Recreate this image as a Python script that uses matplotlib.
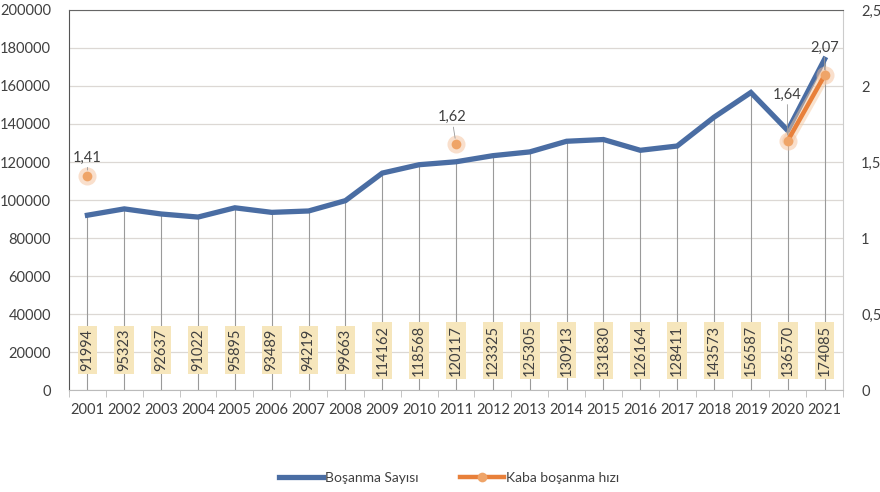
import matplotlib
matplotlib.use("Agg")
import matplotlib.pyplot as plt
import numpy as np

years = ["2001", "2002", "2003", "2004", "2005", "2006", "2007", "2008", "2009", "2010",
         "2011", "2012", "2013", "2014", "2015", "2016", "2017", "2018", "2019", "2020", "2021"]
divorces = [91994, 95323, 92637, 91022, 95895, 93489, 94219, 99663, 114162, 118568,
            120117, 123325, 125305, 130913, 131830, 126164, 128411, 143573, 156587, 136570, 174085]
rate = [1.41, None, None, None, None, None, None, None, None, None,
        1.62, None, None, None, None, None, None, None, None, 1.64, 2.07]
rate_labels = ["1,41", "1,62", "1,64", "2,07"]

plt.rcParams['font.family'] = ['Lato', 'DejaVu Sans']
txt = '#404040'

fig = plt.figure(figsize=(8.8, 4.92), dpi=100)
ax = fig.add_axes([69/880, 1-390/492, (843-69)/880, (390-10)/492])
x = np.arange(len(years))

ax.set_ylim(0, 200000)
ax.set_xlim(-0.5, len(years)-0.5)
ax.set_yticks(np.arange(0, 200001, 20000))
ax.yaxis.grid(True, color='#dcd8d4', lw=0.9)
ax.set_axisbelow(True)

# drop lines
ax.vlines(x, 0, divorces, color='#9a9a9a', lw=0.8, zorder=2)
ax.plot(x, divorces, color='#4a6da3', lw=3.8, solid_joinstyle='miter', zorder=4,
        label='Boşanma Sayısı')

# data labels
for xi, v in zip(x, divorces):
    ax.text(xi, 0.105, str(v), rotation=90, ha='center', va='center', fontsize=10.5,
            color=txt, transform=ax.get_xaxis_transform(), zorder=5,
            bbox=dict(boxstyle='square,pad=0.2', fc='#f6e6bc', ec='none'))

ax.set_xticks(x)
ax.set_xticklabels(years, fontsize=10.5, color=txt)
ax.set_xticks(np.arange(-0.5, len(years), 1), minor=True)
ax.tick_params(axis='x', which='major', length=0, pad=9)
ax.tick_params(axis='x', which='minor', length=5, color='#bbbbbb', direction='out')
ax.tick_params(axis='y', length=0, pad=13, labelsize=10.5, labelcolor=txt)
ax.spines['left'].set_color('#555555')
ax.spines['top'].set_color('#666666')
ax.spines['right'].set_color('#cccccc')
ax.spines['bottom'].set_color('#bbbbbb')

ax2 = ax.twinx()
ax2.set_ylim(0, 2.5)
ax2.set_yticks([0, 0.5, 1, 1.5, 2, 2.5])
ax2.set_yticklabels(["0", "0,5", "1", "1,5", "2", "2,5"], fontsize=10.5, color=txt)
ax2.tick_params(axis='y', length=0, pad=13)
for s in ax2.spines.values():
    s.set_visible(False)

r = np.array([np.nan if v is None else v for v in rate], dtype=float)
# glow
ax2.plot(x, r, color='#f5c9a0', lw=8, alpha=0.5, solid_capstyle='round', zorder=3)
ax2.plot(x, r, color='#f5c09a', lw=0, marker='o', ms=13, alpha=0.5, mec='none', zorder=3)
ax2.plot(x, r, color='#e8803a', lw=3.2, marker='o', ms=7, mfc='#efa468', mec='none',
         zorder=4, label='Kaba boşanma hızı')

pts = [(0, 1.41, 0, 8), (10, 1.62, -1, 14), (19, 1.64, -0.1, 28), (20, 2.07, 0, 15)]
for (xi, yi, dx, dy), lab in zip(pts, rate_labels):
    ax2.annotate(lab, (xi, yi), xytext=(dx*3, dy), textcoords='offset points',
                 ha='center', va='bottom', fontsize=10.5, color=txt,
                 arrowprops=dict(arrowstyle='-', color='#999999', lw=0.6,
                                 shrinkA=0, shrinkB=4))

h1, l1 = ax.get_legend_handles_labels()
h2, l2 = ax2.get_legend_handles_labels()
fig.legend(h1 + h2, l1 + l2, loc='center', bbox_to_anchor=(0.51, 1-478/492), ncol=2,
           frameon=False, fontsize=10, labelcolor=txt, handlelength=3.2,
           handletextpad=0.1, columnspacing=3)

fig.savefig("out.png", dpi=100)
